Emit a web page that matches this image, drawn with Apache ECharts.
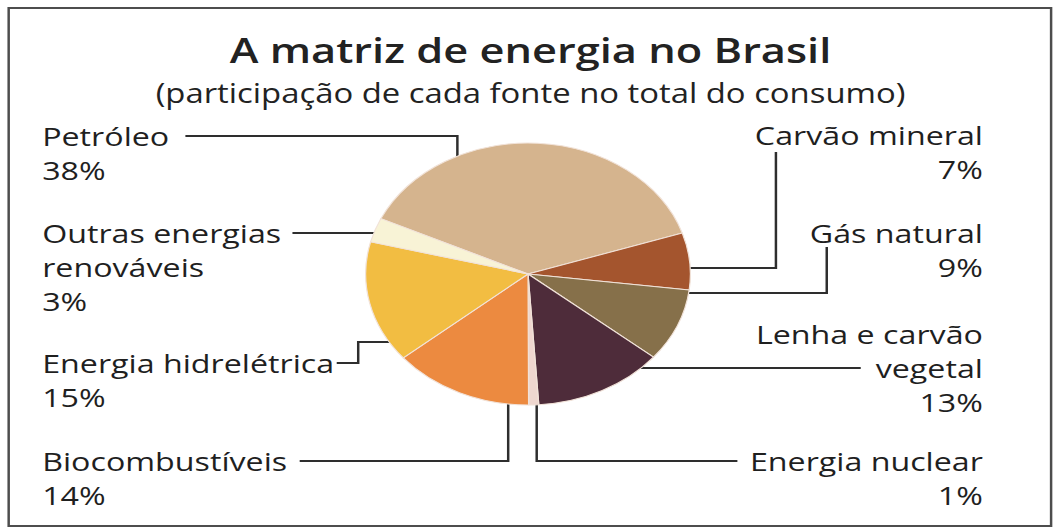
<!DOCTYPE html>
<html lang="pt">
<head>
<meta charset="utf-8">
<title>A matriz de energia no Brasil</title>
<script src="https://cdn.jsdelivr.net/npm/echarts@6/dist/echarts.min.js"></script>
<style>
  html, body { margin: 0; padding: 0; background: #fff; overflow: hidden; }
  #wrap { width: 1061px; height: 530px; overflow: hidden; }
  /* the printed figure is stretched sideways, so the chart is drawn narrow and widened */
  #chart { width: 856px; height: 530px; transform: scaleX(1.2395); transform-origin: 0 0; }
</style>
</head>
<body>
<div id="wrap"><div id="chart"></div></div>
<script>
var sources = ['Petróleo', 'Carvão mineral', 'Gás natural', 'Lenha e carvão vegetal',
               'Energia nuclear', 'Biocombustíveis', 'Energia hidrelétrica', 'Outras energias renováveis'];
var labelText = ['Petróleo', 'Carvão mineral', 'Gás natural', 'Lenha e carvão\nvegetal',
                 'Energia nuclear', 'Biocombustíveis', 'Energia hidrelétrica', 'Outras energias\nrenováveis'];
var shares = [38, 7, 9, 13, 1, 14, 15, 3];
var colors = ['#d5b48e', '#a4552e', '#86704a', '#4e2c3a', '#efd7cf', '#ec8a40', '#f2bd42', '#f8f3d6'];

var FONT = 'Open Sans';
var FS = 26, LH = 34;
var CX = 426, CY = 274, R = 131;

// label anchors + leader routes (unscaled 856px frame). null = keep previous coord
var spots = [
    { x: 34,  y: 136, align: 'left',  row: 0, gap: 13, bend: [[369, null]], hit: 'v' },
    { x: 793, y: 135, align: 'right', from: [626, 152], bend: [[626, 268]], hit: 'h' },
    { x: 793, y: 233, align: 'right', from: [667, 247], bend: [[667, 293]], hit: 'h' },
    { x: 793, y: 334, align: 'right', row: 1, gap: 12, bend: [], hit: 'h' },
    { x: 793, y: 461, align: 'right', row: 0, gap: 10, bend: [[433, null]], hit: 'v' },
    { x: 34,  y: 461, align: 'left',  row: 0, gap: 10, bend: [[410, null]], hit: 'v' },
    { x: 34,  y: 363, align: 'left',  row: 0, gap: 2,  bend: [[289, null], [null, 342]], hit: 'h' },
    { x: 34,  y: 233, align: 'left',  row: 0, gap: 9,  bend: [], hit: 'h' }
];

var ctx = document.createElement('canvas').getContext('2d');
ctx.font = FS + 'px "' + FONT + '"';

function leader(i) {
    var s = spots[i];
    var pts = [];
    if (s.from) {
        pts.push(s.from.slice());
    } else {
        var rowTxt = labelText[i].split('\n')[s.row];
        var w = ctx.measureText(rowTxt).width;
        var ry = s.y + s.row * LH;
        pts.push(s.align === 'left' ? [s.x + w + s.gap, ry] : [s.x - w - s.gap, ry]);
    }
    s.bend.forEach(function (b) {
        var last = pts[pts.length - 1];
        pts.push([b[0] == null ? last[0] : b[0], b[1] == null ? last[1] : b[1]]);
    });
    var p = pts[pts.length - 1];
    if (s.hit === 'v') {
        var d = Math.sqrt(R * R - (p[0] - CX) * (p[0] - CX)) - 2;
        pts.push([p[0], p[1] < CY ? CY - d : CY + d]);
    } else {
        var e = Math.sqrt(R * R - (p[1] - CY) * (p[1] - CY)) - 2;
        pts.push([p[0] < CX ? CX - e : CX + e, p[1]]);
    }
    return pts;
}

var pieData = sources.map(function (n, i) {
    return { name: n, value: shares[i], itemStyle: { color: colors[i] } };
});

var option = {
    animation: false,
    backgroundColor: '#fff',
    title: {
        text: 'A matriz de energia no Brasil',
        subtext: '(participação de cada fonte no total do consumo)',
        left: 'center',
        top: 24,
        itemGap: 6,
        textStyle: { fontFamily: FONT, fontSize: 35, fontWeight: 600, color: '#222', lineHeight: 42 },
        subtextStyle: { fontFamily: FONT, fontSize: 26.5, color: '#222', lineHeight: 32 }
    },
    graphic: [{
        type: 'rect',
        shape: { x: 7, y: 8, width: 841, height: 518 },
        style: { fill: 'none', stroke: '#4d4d4d', lineWidth: 2 },
        silent: true
    }],
    series: [{
        type: 'pie',
        center: [CX, CY],
        radius: R,
        startAngle: 155,
        clockwise: true,
        avoidLabelOverlap: false,
        silent: true,
        data: pieData,
        itemStyle: { borderColor: '#f1e2d8', borderWidth: 1 },
        label: {
            show: true,
            position: 'outside',
            fontFamily: FONT,
            fontSize: FS,
            lineHeight: LH,
            color: '#1f1f1f',
            formatter: function (p) { return labelText[p.dataIndex] + '\n' + p.value + '%'; }
        },
        labelLine: { show: true, lineStyle: { color: '#2e2e2e', width: 2 } },
        labelLayout: function (p) {
            var s = spots[p.dataIndex];
            return {
                x: s.x,
                y: s.y - LH / 2,
                align: s.align,
                verticalAlign: 'top',
                labelLinePoints: leader(p.dataIndex)
            };
        }
    }]
};

var chart = echarts.init(document.getElementById('chart'), null, { renderer: 'svg' });
chart.setOption(option);
</script>
</body>
</html>
